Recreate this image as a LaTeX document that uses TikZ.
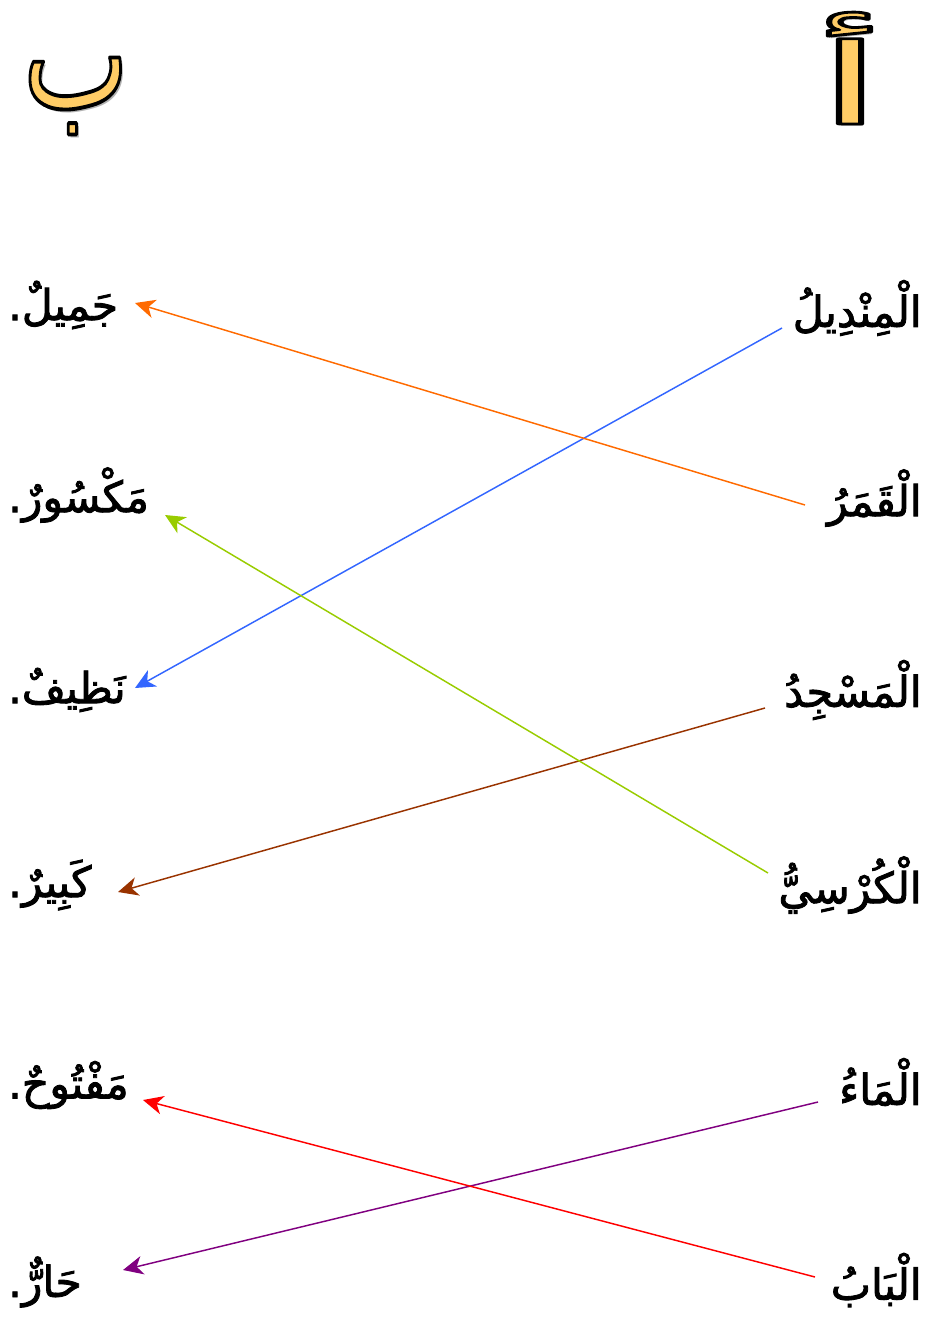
\documentclass[tikz,border=0pt]{standalone}
\usepackage{fontspec}
\usetikzlibrary{arrows.meta,calc}
\TeXXeTstate=1
\newfontfamily\arabicfont[Script=Arabic,FakeBold=2]{DejaVu Sans}
\newfontfamily\bigarabic[Script=Arabic]{DejaVu Sans}
\newcommand{\outlinedtext}[1]{\special{pdf:literal direct 0 0 0 RG 2 w 1 j 2 Tr}#1\special{pdf:literal direct 0 Tr}}
\definecolor{cOrange}{HTML}{FF6A00}
\definecolor{cBlue}{HTML}{3366FF}
\definecolor{cGreen}{HTML}{99CC00}
\definecolor{cBrown}{HTML}{993300}
\definecolor{cRed}{HTML}{FF0000}
\definecolor{cPurple}{HTML}{800080}
\definecolor{cHead}{HTML}{FFCC66}
\begin{document}
\begin{tikzpicture}[x=0.75pt,y=-0.75pt,
  word/.style={font=\arabicfont\fontsize{32}{38}\selectfont, inner sep=0pt},
  rword/.style={word, anchor=east},
  lword/.style={word, anchor=west},
  con/.style={line width=1.1pt, -{Stealth[length=15pt,width=14pt,inset=4.5pt]}},
  head/.style={font=\bigarabic\fontsize{80}{90}\selectfont, inner sep=0pt}]
\useasboundingbox (0,0) rectangle (930,1317);
% header letters
\node[head, text=black!30] (hashadow) at (853,71) {\scalebox{2.3}[1.05]{\beginR أ\endR}};
\node[head, text=cHead] (ha) at (850,68) {\scalebox{2.3}[1.05]{\outlinedtext{\beginR أ\endR}}};
\node[head, text=black!30] (hbshadow) at (79,99) {\scalebox{1.06}[1.45]{\beginR ب\endR}};
\node[head, text=cHead] (hb) at (76,96) {\scalebox{1.06}[1.45]{\outlinedtext{\beginR ب\endR}}};
% right column
\node[rword] (r1) at (922,308) {\beginR الْمِنْدِيلُ\endR};
\node[rword] (r2) at (922,498) {\beginR الْقَمَرُ\endR};
\node[rword] (r3) at (922,690) {\beginR الْمَسْجِدُ\endR};
\node[rword] (r4) at (922,885) {\beginR الْكُرْسِيُّ\endR};
\node[rword] (r5) at (922,1082) {\beginR الْمَاءُ\endR};
\node[rword] (r6) at (922,1280) {\beginR الْبَابُ\endR};
% left column
\node[lword] (l1) at (8,305) {\beginR جَمِيلٌ.\endR};
\node[lword] (l2) at (8,495) {\beginR مَكْسُورٌ.\endR};
\node[lword] (l3) at (8,690) {\beginR نَظِيفٌ.\endR};
\node[lword] (l4) at (8,885) {\beginR كَبِيرٌ.\endR};
\node[lword] (l5) at (8,1085) {\beginR مَفْتُوحٌ.\endR};
\node[lword] (l6) at (8,1282) {\beginR حَارٌّ.\endR};
% connector ends
\coordinate (s1) at (782,328);  \coordinate (e1) at (135,688);
\coordinate (s2) at (805,505);  \coordinate (e2) at (135,303);
\coordinate (s3) at (765,708);  \coordinate (e3) at (118,892);
\coordinate (s4) at (768,873);  \coordinate (e4) at (165,515);
\coordinate (s5) at (818,1102); \coordinate (e5) at (123,1270);
\coordinate (s6) at (815,1277); \coordinate (e6) at (143,1100);
\draw[con, cBlue] (s1) -- (e1);
\draw[con, cOrange] (s2) -- (e2);
\draw[con, cBrown] (s3) -- (e3);
\draw[con, cGreen] (s4) -- (e4);
\draw[con, cPurple] (s5) -- (e5);
\draw[con, cRed] (s6) -- (e6);
\end{tikzpicture}
\end{document}
